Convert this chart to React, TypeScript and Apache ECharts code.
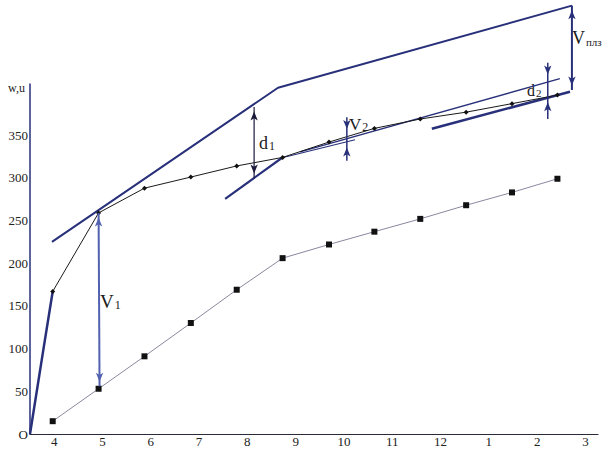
import React, { useEffect, useRef } from 'react';
import * as echarts from 'echarts';

// Tick labels (months, x-axis) and y ticks
const monthTicks = [4, 5, 6, 7, 8, 9, 10, 11, 12, 13, 14, 15];
const monthLabels = ['4', '5', '6', '7', '8', '9', '10', '11', '12', '1', '2', '3'];
const yTickLabels = ['O', '50', '100', '150', '200', '250', '300', '350', ''];

const xPos = [3.97, 4.92, 5.87, 6.83, 7.78, 8.73, 9.69, 10.63, 11.58, 12.53, 13.48, 14.42];
const wValues = [167, 259, 288, 301, 314, 324, 342, 358, 369, 377, 387, 397];
const uValues = [15, 53, 91, 130, 169, 206, 222, 237, 252, 268, 283, 299];

// Construction lines
const riseCurve = [[3.5, 0], [3.78, 100], [3.97, 167]];
const envelope = [[3.955, 225], [8.635, 405.6], [14.72, 501.8]];
const tangent1 = [[7.54, 275.5], [8.72, 323.6]];
const tangent1Ext = [[8.72, 323.6], [10.23, 344.7]];
const tangent2Upper = [[9.09, 330.6], [14.47, 416.2]];
const tangent2Lower = [[11.82, 357.6], [14.68, 401]];
const wTail = [[14.42, 397], [14.68, 401]];

// Dimension arrows: [x, y, head] head: 0 none, 1 up, -1 down
const arrowV1 = [[4.92, 259, 1], [4.94, 56, -1]];
const arrowD1 = [[8.14, 383, 1], [8.14, 300, -1]];
const arrowV2 = [[10.06, 371, 0], [10.06, 352, -1], [10.06, 341, 1], [10.06, 320, 0]];
const arrowD2 = [[14.22, 435, 0], [14.22, 416, -1], [14.22, 394, 1], [14.22, 369, 0]];
const arrowVplz = [[14.72, 501.8, 1], [14.72, 403, -1]];

const NAVY = '#28307a';
const SERIF = '"Liberation Serif", "DejaVu Serif", serif';

function pairs(xs: number[], ys: number[]) {
  return xs.map((x, i) => [x, ys[i]]);
}

function arrowSeries(pts: number[][], color: string, width: number) {
  const h = 9;
  return {
    type: 'line',
    clip: false,
    silent: true,
    showSymbol: true,
    showAllSymbol: true,
    z: 5,
    lineStyle: { color, width },
    itemStyle: { color },
    data: pts.map(([x, y, head]) => ({
      value: [x, y],
      symbol: head === 0 ? 'none' : 'arrow',
      symbolSize: [5.5, h],
      symbolRotate: head === -1 ? 180 : 0,
      symbolOffset: [0, head === -1 ? -h / 2 : h / 2],
    })),
  };
}

function plainLine(data: number[][], color: string, width: number) {
  return {
    type: 'line',
    clip: false,
    silent: true,
    symbol: 'none',
    lineStyle: { color, width },
    data,
  };
}

export default function App() {
  const ref = useRef<HTMLDivElement>(null);
  useEffect(() => {
    const chart = echarts.init(ref.current!, null, { renderer: 'svg' });
    const rich = (a: number, b: number) => ({
      a: { fontSize: a, fontFamily: SERIF, fill: '#1a1a1a', verticalAlign: 'bottom' },
      b: { fontSize: b, fontFamily: SERIF, fill: '#1a1a1a', verticalAlign: 'bottom', padding: [0, 0, 0, 1] },
    });
    chart.setOption({
      animation: false,
      backgroundColor: '#ffffff',
      grid: { left: 30, right: 8, top: 84, bottom: 26, containLabel: false },
      xAxis: {
        type: 'value',
        min: 3.5,
        max: 15.26,
        minInterval: 1,
        maxInterval: 1,
        axisLine: { show: true, lineStyle: { color: '#2a2a3a', width: 1.2 } },
        axisTick: { show: false },
        splitLine: { show: false },
        axisLabel: {
          margin: 1,
          fontSize: 13,
          fontFamily: SERIF,
          color: '#222',
          showMinLabel: false,
          showMaxLabel: false,
          formatter: (v: number) => {
            const i = monthTicks.indexOf(Math.round(v * 1000) / 1000);
            return i >= 0 ? monthLabels[i] : '';
          },
        },
      },
      yAxis: {
        type: 'value',
        min: 0,
        max: 410,
        interval: 50,
        name: 'w,u',
        nameLocation: 'end',
        nameGap: -4,
        nameTextStyle: { fontSize: 12, fontFamily: SERIF, color: '#222', align: 'right', verticalAlign: 'middle', padding: [0, 5, 0, 0] },
        axisLine: { show: true, lineStyle: { color: NAVY, width: 1.5 } },
        axisTick: { show: false },
        splitLine: { show: false },
        axisLabel: {
          margin: 2,
          fontSize: 13,
          fontFamily: SERIF,
          color: '#222',
          formatter: (v: number) => {
            const i = Math.round(v / 50);
            return yTickLabels[i] ?? '';
          },
        },
      },
      graphic: [
        { type: 'text', left: 100, top: 292, style: { text: '{a|V}{b|1}', rich: rich(19, 12) } },
        { type: 'text', left: 259, top: 134, style: { text: '{a|d}{b|1}', rich: rich(18, 12) } },
        { type: 'text', left: 349, top: 116, style: { text: '{a|V}{b|2}', rich: rich(17, 12) } },
        { type: 'text', left: 527, top: 82, style: { text: '{a|d}{b|2}', rich: rich(16, 11) } },
        { type: 'text', left: 572, top: 29, style: { text: '{a|V}{b|плз}', rich: rich(18, 11) } },
      ],
      series: [
        {
          name: 'u',
          type: 'line',
          silent: true,
          data: pairs(xPos, uValues),
          symbol: 'rect',
          symbolSize: 6,
          itemStyle: { color: '#111' },
          lineStyle: { color: '#7a7a95', width: 0.9 },
          z: 3,
        },
        {
          name: 'w',
          type: 'line',
          silent: true,
          data: pairs(xPos, wValues),
          symbol: 'diamond',
          symbolSize: 5,
          itemStyle: { color: '#111' },
          lineStyle: { color: '#1a1a1a', width: 1 },
          z: 4,
        },
        plainLine(wTail, '#1a1a1a', 1),
        plainLine(riseCurve, NAVY, 2.5),
        plainLine(envelope, NAVY, 2),
        plainLine(tangent1, NAVY, 2.2),
        plainLine(tangent1Ext, NAVY, 1.2),
        plainLine(tangent2Upper, NAVY, 1.3),
        plainLine(tangent2Lower, NAVY, 2.6),
        arrowSeries(arrowV1, '#5262b0', 2),
        arrowSeries(arrowD1, '#1a1a3a', 1.2),
        arrowSeries(arrowV2, NAVY, 1.5),
        arrowSeries(arrowD2, NAVY, 1.5),
        arrowSeries(arrowVplz, NAVY, 2),
      ],
    });
    return () => chart.dispose();
  }, []);
  return (
    <div
      ref={ref}
      style={{ position: 'fixed', left: 0, top: 0, width: 606, height: 460, background: '#fff' }}
    />
  );
}
